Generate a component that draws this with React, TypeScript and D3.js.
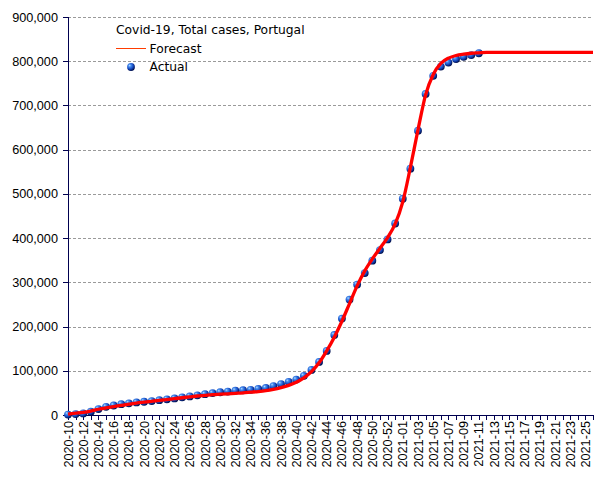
import React from "react";
import * as d3 from "d3";

const weeks2020: string[] = d3.range(10, 54).map((w) => `2020-${String(w).padStart(2, "0")}`);
const weeks2021: string[] = d3.range(1, 27).map((w) => `2021-${String(w).padStart(2, "0")}`);
const categories: string[] = [...weeks2020, ...weeks2021];

const actual: number[] = [
  1000, 2000, 3500, 7500, 13500, 18500, 21500, 24500, 26500, 28500,
  30000, 31500, 33500, 35500, 37500, 40000, 42000, 44500, 47000, 49500,
  51500, 53000, 55000, 56000, 57000, 59000, 61000, 65500, 70000, 75000,
  80000, 88500, 102000, 120000, 145000, 181000, 218000, 261000, 295000, 321000,
  349000, 373000, 397000, 433000, 489000, 557000, 643000, 726000, 767000, 788000,
  797000, 805000, 810000, 814000, 818000,
];

const forecast: number[] = [
  2000, 4000, 6000, 9000, 13000, 16000, 19000, 22000, 24500, 27000,
  29000, 31000, 33000, 35000, 37000, 39000, 41000, 43000, 44500, 46000,
  47000, 48000, 49000, 50000, 51500, 53000, 55000, 58000, 62000, 67000,
  74000, 84000, 98000, 118000, 145000, 176000, 212000, 252000, 292000, 326000,
  353000, 377000, 401000, 432000, 482000, 560000, 645000, 724000, 770000, 795000,
  807000, 813000, 816000, 818000, 819000, 820000, 820000, 820000, 820000, 820000,
  820000, 820000, 820000, 820000, 820000, 820000, 820000, 820000, 820000, 820000,
];

const yTicks: number[] = [0, 100000, 200000, 300000, 400000, 500000, 600000, 700000, 800000, 900000];

const titleText = "Covid-19, Total cases, Portugal";
const forecastLabel = "Forecast";
const actualLabel = "Actual";

const W = 605;
const H = 480;
const left = 68;
const right = 593;
const top = 17;
const bottom = 415;
const axisColor = "#000050";
const axisFont = "'Liberation Sans', Arial, sans-serif";
const legendFont = "'DejaVu Sans', Verdana, sans-serif";

export default function App() {
  const x = d3.scalePoint<string>().domain(categories).range([left, right]);
  const y = d3.scaleLinear().domain([0, 900000]).range([bottom, top]);
  const fmt = d3.format(",");

  const line = d3
    .line<number>()
    .x((_, i) => x(categories[i]) as number)
    .y((d) => y(d))
    .curve(d3.curveMonotoneX);

  return (
    <svg
      width={W}
      height={H}
      style={{ position: "absolute", left: 0, top: 0, background: "#fff" }}
    >
      <defs>
        <radialGradient id="ball" cx="0.38" cy="0.35" r="0.65" fx="0.32" fy="0.3">
          <stop offset="0%" stopColor="#b8dcff" />
          <stop offset="25%" stopColor="#4a90f0" />
          <stop offset="65%" stopColor="#1448c0" />
          <stop offset="100%" stopColor="#001050" />
        </radialGradient>
      </defs>
      <rect x={0} y={0} width={W} height={H} fill="#fff" />

      {/* grid */}
      {yTicks.filter((t) => t > 0).map((t) => (
        <line
          key={"g" + t}
          x1={left}
          x2={right}
          y1={Math.round(y(t)) + 0.5}
          y2={Math.round(y(t)) + 0.5}
          stroke="#9a9a9a"
          strokeWidth={1}
          strokeDasharray="3,2"
        />
      ))}

      {/* y axis */}
      <line x1={left + 0.5} x2={left + 0.5} y1={top} y2={bottom} stroke={axisColor} strokeWidth={1} />
      {yTicks.map((t) => (
        <g key={"y" + t}>
          <line x1={left - 5} x2={left} y1={Math.round(y(t)) + 0.5} y2={Math.round(y(t)) + 0.5} stroke={axisColor} />
          <text
            x={58}
            y={y(t)}
            dy="0.36em"
            textAnchor="end"
            fontFamily={axisFont}
            fontSize={12.7}
            fill="#000"
          >
            {fmt(t)}
          </text>
        </g>
      ))}

      {/* x axis */}
      <line x1={left} x2={right + 0.5} y1={bottom + 0.5} y2={bottom + 0.5} stroke={axisColor} strokeWidth={1} />
      {categories.map((c, i) => {
        const xx = Math.round(x(c) as number) + 0.5;
        return (
          <g key={"x" + c}>
            <line x1={xx} x2={xx} y1={bottom} y2={bottom + 5} stroke={axisColor} />
            {i % 2 === 0 && (
              <text
                transform={`translate(${x(c)},${421}) rotate(-90)`}
                dy="0.36em"
                textAnchor="end"
                fontFamily={axisFont}
                fontSize={12.7}
                fill="#000"
              >
                {c}
              </text>
            )}
          </g>
        );
      })}

      {/* actual dots */}
      {actual.map((v, i) => (
        <circle key={"a" + i} cx={x(categories[i])} cy={y(v)} r={3.9} fill="url(#ball)" />
      ))}

      {/* forecast line */}
      <path d={line(forecast) || ""} fill="none" stroke="#ff0000" strokeWidth={3.3} strokeLinejoin="round" />

      {/* legend */}
      <text x={116} y={34} fontFamily={legendFont} fontSize={12.3} fill="#000">
        {titleText}
      </text>
      <line x1={116} x2={146} y1={48.5} y2={48.5} stroke="#ff3c00" strokeWidth={1} />
      <text x={149.5} y={52.7} fontFamily={legendFont} fontSize={12.3} fill="#000">
        {forecastLabel}
      </text>
      <circle cx={131} cy={67} r={3.9} fill="url(#ball)" />
      <text x={149.5} y={71} fontFamily={legendFont} fontSize={12.3} fill="#000">
        {actualLabel}
      </text>
    </svg>
  );
}
